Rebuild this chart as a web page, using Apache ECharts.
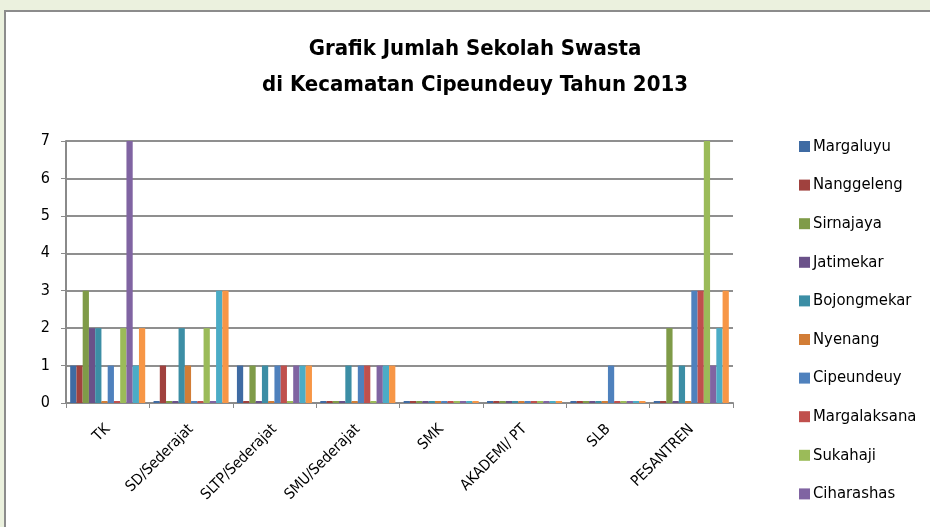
<!DOCTYPE html>
<html>
<head>
<meta charset="utf-8">
<title>Grafik Jumlah Sekolah Swasta</title>
<script src="https://cdn.jsdelivr.net/npm/echarts@6/dist/echarts.min.js"></script>
<style>
  html, body { margin: 0; padding: 0; background: #ebf1de; overflow: hidden; width: 930px; height: 527px; }
  .frame {
    position: absolute; left: 4px; top: 10px; right: -10px; bottom: -10px;
    background: #fff; border-left: 2px solid #8c8c8c; border-top: 2px solid #8c8c8c;
  }
  #chartBox { position: absolute; left: 0; top: 0; width: 930px; height: 527px; }
</style>
</head>
<body>
<div class="frame"></div>
<div id="chartBox"></div>
<script>
// kategori sekolah
var categories = ['TK', 'SD/Sederajat', 'SLTP/Sederajat', 'SMU/Sederajat', 'SMK', 'AKADEMI/ PT', 'SLB', 'PESANTREN'];

// nilai per desa (urutan sesuai kategori)
var margaluyu    = [1, 0, 1, 0, 0, 0, 0, 0];
var nanggeleng   = [1, 1, 0, 0, 0, 0, 0, 0];
var sirnajaya    = [3, 0, 1, 0, 0, 0, 0, 2];
var jatimekar    = [2, 0, 0, 0, 0, 0, 0, 0];
var bojongmekar  = [2, 2, 1, 1, 0, 0, 0, 1];
var nyenang      = [0, 1, 0, 0, 0, 0, 0, 0];
var cipeundeuy   = [1, 0, 1, 1, 0, 0, 1, 3];
var margalaksana = [0, 0, 1, 1, 0, 0, 0, 3];
var sukahaji     = [2, 2, 0, 0, 0, 0, 0, 7];
var ciharashas   = [7, 0, 1, 1, 0, 0, 0, 1];
var sukamanah    = [1, 3, 1, 1, 0, 0, 0, 2];
var ciroyom      = [2, 3, 1, 1, 0, 0, 0, 3];

var seriesNames = ['Margaluyu', 'Nanggeleng', 'Sirnajaya', 'Jatimekar', 'Bojongmekar', 'Nyenang',
  'Cipeundeuy', 'Margalaksana', 'Sukahaji', 'Ciharashas', 'Sukamanah', 'Ciroyom'];
var seriesData = [margaluyu, nanggeleng, sirnajaya, jatimekar, bojongmekar, nyenang,
  cipeundeuy, margalaksana, sukahaji, ciharashas, sukamanah, ciroyom];
var colors = ['#3f6ba3', '#a0413e', '#7f9b48', '#6a5189', '#3c8ea5', '#d27d36',
  '#4f81bd', '#c0504d', '#9bbb59', '#8064a2', '#4bacc6', '#f79646'];

var font = '"Liberation Sans Narrow", "DejaVu Sans Condensed", sans-serif';

var series = [];
for (var i = 0; i < seriesNames.length; i++) {
  series.push({
    name: seriesNames[i],
    type: 'bar',
    data: seriesData[i],
    barGap: '0%',
    barCategoryGap: '10%',
    barMinHeight: 2,
    itemStyle: { color: colors[i] }
  });
}

var chart = echarts.init(document.getElementById('chartBox'));
chart.setOption({
  animation: false,
  color: colors,
  title: {
    text: 'Grafik Jumlah Sekolah Swasta\ndi Kecamatan Cipeundeuy Tahun 2013',
    left: 470,
    textAlign: 'center',
    top: 26,
    textStyle: { fontFamily: font, fontWeight: 'bold', fontSize: 22, lineHeight: 36, color: '#000' }
  },
  legend: {
    orient: 'vertical',
    left: 794,
    top: 133,
    data: seriesNames.slice(0, 10),
    itemWidth: 11,
    itemHeight: 11,
    itemGap: 21.6,
    icon: 'rect',
    textStyle: { fontFamily: font, fontSize: 16.5, lineHeight: 16, color: '#000', padding: [0, 0, 0, -2] }
  },
  grid: { left: 66, right: 197, top: 141, bottom: 124 },
  xAxis: {
    type: 'category',
    data: categories,
    axisLine: { lineStyle: { color: '#8a8a8a', width: 2 } },
    axisTick: { show: true, length: 5, lineStyle: { color: '#8a8a8a' } },
    axisLabel: { rotate: 45, fontFamily: font, fontSize: 15, color: '#000', margin: 24 }
  },
  yAxis: {
    type: 'value',
    min: 0,
    max: 7,
    interval: 1,
    axisLine: { show: true, lineStyle: { color: '#8a8a8a', width: 2 } },
    axisTick: { show: true, length: 5, lineStyle: { color: '#8a8a8a' } },
    axisLabel: { fontFamily: font, fontSize: 16, color: '#000', margin: 16 },
    splitLine: { lineStyle: { color: '#8f8f8f', width: 2 } }
  },
  series: series
});
</script>
</body>
</html>
